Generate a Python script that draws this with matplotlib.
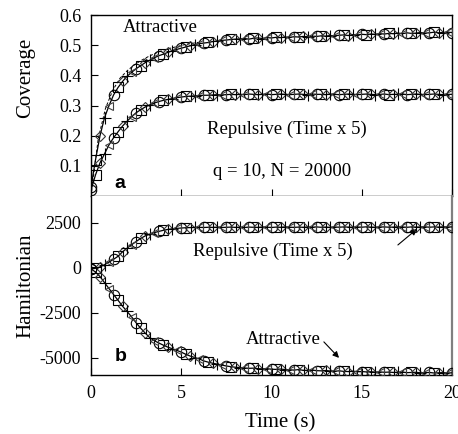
import numpy as np
import matplotlib
matplotlib.use("Agg")
import matplotlib.pyplot as plt

plt.rcParams['font.family'] = ['Liberation Serif', 'DejaVu Serif']

# time grid (s), one reading every 0.25 s
time = np.arange(0, 20.001, 0.25)

# coverage, panel a
cov_att = [0.03, 0.12, 0.2, 0.26, 0.30, 0.335, 0.36, 0.38, 0.397, 0.41,
           0.422, 0.432, 0.442, 0.45, 0.458, 0.465, 0.47, 0.476, 0.481, 0.486,
           0.49, 0.494, 0.498, 0.502, 0.505, 0.507, 0.509, 0.512, 0.514, 0.516,
           0.517, 0.519, 0.52,
           0.521, 0.522, 0.520, 0.523, 0.524, 0.522, 0.525, 0.524, 0.526, 0.525,
           0.527, 0.526, 0.528, 0.527, 0.529, 0.528, 0.530, 0.529, 0.531, 0.530,
           0.532, 0.531, 0.533, 0.534, 0.532, 0.535, 0.534, 0.536, 0.535, 0.537,
           0.536, 0.538, 0.537, 0.539, 0.538, 0.540, 0.538, 0.541, 0.539, 0.540,
           0.542, 0.540, 0.541, 0.543, 0.541, 0.542, 0.543, 0.542]
cov_rep = [0.02, 0.07, 0.11, 0.14, 0.17, 0.193, 0.213, 0.232, 0.248, 0.263,
           0.276, 0.286, 0.295, 0.302, 0.308, 0.313, 0.317, 0.32, 0.323, 0.326,
           0.328, 0.33, 0.331, 0.332, 0.333, 0.334, 0.334, 0.335, 0.336, 0.335,
           0.336, 0.337, 0.336,
           0.337, 0.336, 0.338, 0.337, 0.336, 0.337, 0.338, 0.336, 0.337, 0.338,
           0.337, 0.336, 0.337, 0.338, 0.337, 0.336, 0.338, 0.337, 0.337, 0.336,
           0.338, 0.337, 0.336, 0.337, 0.338, 0.337, 0.336, 0.337, 0.338, 0.337,
           0.336, 0.337, 0.338, 0.336, 0.337, 0.337, 0.338, 0.336, 0.337, 0.338,
           0.337, 0.336, 0.337, 0.338, 0.337, 0.336, 0.337, 0.337]
# second (dashed) attractive run, early part only
dash_time = np.arange(0, 6.01, 0.4)
cov_att_dash = [0.0, 0.19, 0.29, 0.35, 0.39, 0.415, 0.435, 0.45, 0.463, 0.474,
                0.483, 0.49, 0.496, 0.502, 0.506, 0.51]

# hamiltonian, panel b
ham_rep = [-60, -20, 60, 180, 330, 480, 650, 900, 1100, 1290,
           1470, 1640, 1780, 1880, 1960, 2030, 2090, 2140, 2175, 2200,
           2220, 2235, 2245, 2250, 2255, 2250, 2260, 2255, 2265, 2250,
           2260, 2270, 2255,
           2265, 2250, 2270, 2260, 2255, 2275, 2265, 2250, 2270, 2260,
           2280, 2265, 2255, 2270, 2260, 2275, 2265, 2280, 2260, 2270,
           2255, 2275, 2265, 2280, 2270, 2260, 2275, 2265, 2285, 2270,
           2260, 2275, 2280, 2265, 2270, 2285, 2275, 2260, 2280, 2270,
           2275, 2285, 2265, 2280, 2270, 2285, 2275, 2280]
ham_att = [-50, -230, -480, -820, -1150, -1480, -1800, -2130, -2420, -2720,
           -3050, -3350, -3620, -3870, -4040, -4170, -4290, -4400, -4490, -4580,
           -4680, -4800, -4900, -4980, -5060, -5170, -5240, -5300, -5350, -5400,
           -5450, -5490, -5520,
           -5540, -5560, -5580, -5570, -5600, -5610, -5600, -5630, -5640, -5620,
           -5650, -5660, -5680, -5650, -5690, -5700, -5680, -5710, -5720, -5700,
           -5730, -5740, -5720, -5750, -5760, -5740, -5770, -5760, -5780, -5770,
           -5790, -5780, -5800, -5790, -5810, -5800, -5790, -5820, -5810, -5800,
           -5830, -5820, -5810, -5840, -5830, -5820, -5840, -5830]

markers = [('o', 7.5, 'black'), ('s', 6.5, 'black'), ('D', 5, '0.2'),
           ('+', 8, 'black'), ('<', 6, '0.25')]


def draw_series(ax, x, y):
    x = np.asarray(x)
    y = np.asarray(y)
    ax.plot(x, y, '-', color='black', lw=0.9, zorder=3)
    n = len(markers)
    for k, (m, ms, col) in enumerate(markers):
        ax.plot(x[k::n], y[k::n], m, ms=ms, mfc='none',
                mec=col, mew=0.8, zorder=4)


fig = plt.figure(figsize=(4.58, 4.34), dpi=100)
ax1 = fig.add_axes([0.1987, 0.5484, 0.7883, 0.417])
ax2 = fig.add_axes([0.1987, 0.136, 0.7883, 0.4124])

# panel a
draw_series(ax1, time, cov_att)
draw_series(ax1, time, cov_rep)
ax1.plot(dash_time, cov_att_dash, '--', color='black', lw=0.7, dashes=(3, 2))
ax1.set_xlim(0, 20)
ax1.set_ylim(0, 0.6)
ax1.set_xticks([0, 5, 10, 15, 20])
ax1.set_xticklabels([])
ax1.set_yticks([0.1, 0.2, 0.3, 0.4, 0.5, 0.6])
ax1.set_yticklabels(['0.1', '0.2', '0.3', '0.4', '0.5', '0.6'])
ax1.set_ylabel('Coverage', fontsize=15)
ax1.yaxis.set_label_coords(-0.155, 0.65)
ax1.text(1.75, 0.56, 'Attractive', fontsize=13.5, va='center')
ax1.text(6.43, 0.221, 'Repulsive (Time x 5)', fontsize=13.5, va='center')
ax1.text(6.76, 0.08, 'q = 10, N = 20000', fontsize=13.5, va='center')
ax1.text(1.3, 0.043, 'a', fontsize=14, fontweight='bold', va='center',
         family=['Liberation Sans', 'DejaVu Sans'])

# panel b
draw_series(ax2, time, ham_rep)
draw_series(ax2, time, ham_att)
ax2.set_xlim(0, 20)
ax2.set_ylim(-5950, 4000)
ax2.set_xticks([0, 5, 10, 15, 20])
ax2.set_yticks([2500, 0, -2500, -5000])
ax2.set_yticklabels(['2500', '0', '-2500', '-5000'])
ax2.set_ylabel('Hamiltonian', fontsize=15)
ax2.yaxis.set_label_coords(-0.155, 0.5)
ax2.set_xlabel('Time (s)', fontsize=15)
ax2.xaxis.set_label_coords(0.524, -0.213)
ax2.text(5.65, 944, 'Repulsive (Time x 5)', fontsize=13.5, va='center')
ax2.annotate('', xy=(18.06, 2167), xytext=(17.0, 1278),
             arrowprops=dict(arrowstyle='-|>', color='black', lw=0.8,
                             mutation_scale=9, shrinkA=0, shrinkB=0))
ax2.text(8.6, -4000, 'Attractive', fontsize=13.5, va='center')
ax2.annotate('', xy=(13.74, -5000), xytext=(12.9, -4111),
             arrowprops=dict(arrowstyle='-|>', color='black', lw=0.8,
                             mutation_scale=9, shrinkA=0, shrinkB=0))
ax2.text(1.3, -4944, 'b', fontsize=14, fontweight='bold', va='center',
         family=['Liberation Sans', 'DejaVu Sans'])
ax2.spines['top'].set_visible(False)
ax2.spines['right'].set_color('0.5')
ax2.spines['right'].set_linewidth(1.6)

for ax in (ax1, ax2):
    ax.tick_params(direction='in', length=5, width=0.8, labelsize=13, pad=7)
    for name in ('left', 'bottom', 'top'):
        ax.spines[name].set_linewidth(1.0)
ax1.spines['right'].set_linewidth(1.0)

fig.savefig('out.png', dpi=100)
